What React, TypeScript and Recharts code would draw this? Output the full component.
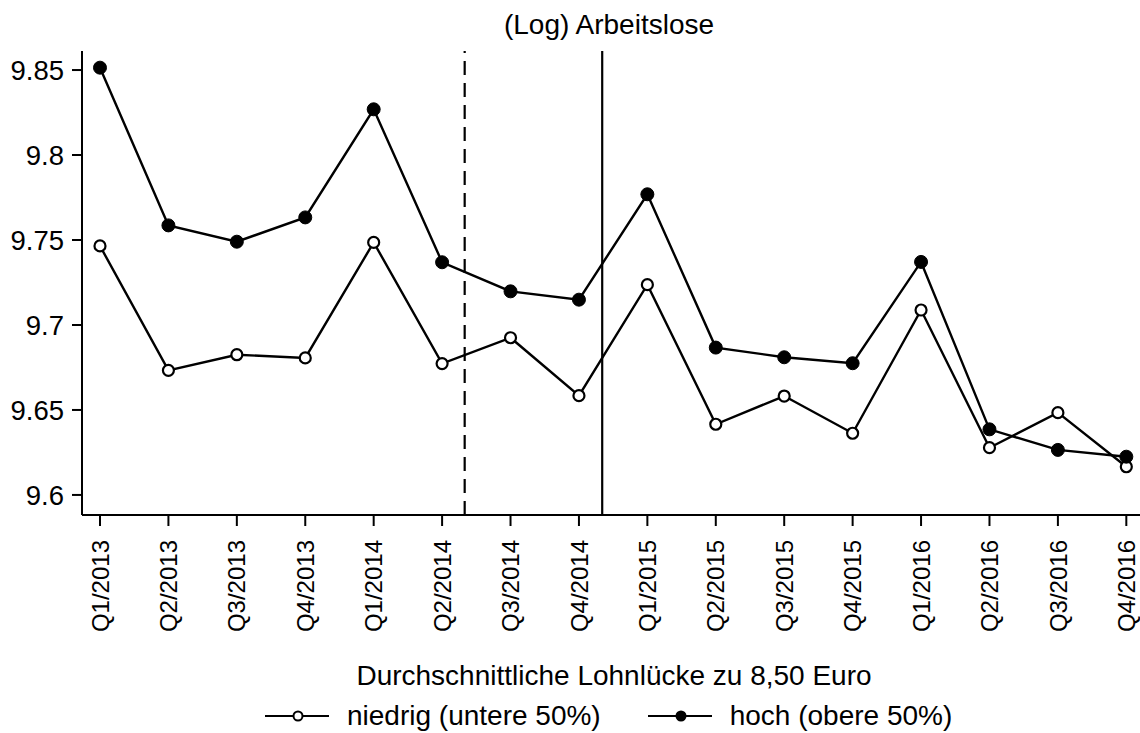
import { LineChart, Line, XAxis, YAxis, ReferenceLine } from "recharts";

const quarters = [
  "Q1/2013", "Q2/2013", "Q3/2013", "Q4/2013",
  "Q1/2014", "Q2/2014", "Q3/2014", "Q4/2014",
  "Q1/2015", "Q2/2015", "Q3/2015", "Q4/2015",
  "Q1/2016", "Q2/2016", "Q3/2016", "Q4/2016",
];

// niedrig (untere 50%) – hollow markers
const niedrig = [9.7465, 9.6733, 9.6825, 9.6806, 9.7486, 9.6773, 9.6925, 9.6584, 9.7237, 9.6416, 9.6582, 9.6363, 9.7088, 9.6278, 9.6484, 9.6166];
// hoch (obere 50%) – filled markers
const hoch = [9.8514, 9.7586, 9.749, 9.7633, 9.8269, 9.7369, 9.7198, 9.7149, 9.7769, 9.6867, 9.681, 9.6775, 9.7371, 9.6386, 9.6265, 9.6225];

const yTicks = [9.6, 9.65, 9.7, 9.75, 9.8, 9.85];
const xTicks = quarters.map((_, i) => i);

// policy markers between quarters
const dashedAt = 5.33;
const solidAt = 7.34;

const data = quarters.map((q, i) => ({ i, quarter: q, niedrig: niedrig[i], hoch: hoch[i] }));

const FONT = "'Liberation Sans', Arial, sans-serif";

function QuarterTick(props: any) {
  const { x, y, payload } = props;
  return (
    <text
      x={0}
      y={0}
      transform={`translate(${x},${y + 12}) rotate(-90)`}
      textAnchor="end"
      dy="0.36em"
      fontSize={24}
      fontFamily={FONT}
      fill="#000"
    >
      {quarters[payload.value]}
    </text>
  );
}

function LegendItem({ filled, label }: { filled: boolean; label: string }) {
  return (
    <div style={{ display: "flex", alignItems: "center", gap: 18 }}>
      <svg width={64} height={14}>
        <line x1={0} y1={7} x2={64} y2={7} stroke="#000" strokeWidth={2.2} />
        <circle cx={33} cy={7} r={4.5} fill={filled ? "#000" : "#fff"} stroke="#000" strokeWidth={2} />
      </svg>
      <span>{label}</span>
    </div>
  );
}

export default function App() {
  return (
    <div style={{ position: "absolute", left: 0, top: 0, width: 1140, height: 733, background: "#fff", fontFamily: FONT, color: "#000" }}>
      <div style={{ position: "absolute", top: 9, left: 0, width: 1218, textAlign: "center", fontSize: 28 }}>
        (Log) Arbeitslose
      </div>
      <LineChart width={1140} height={733} data={data} margin={{ top: 51, right: 0, left: 0, bottom: 98 }}>
        <XAxis
          type="number"
          dataKey="i"
          domain={[-0.263, 15.2]}
          ticks={xTicks}
          allowDataOverflow
          interval={0}
          height={120}
          tickSize={11}
          stroke="#000"
          strokeWidth={2}
          tick={<QuarterTick />}
        />
        <YAxis
          domain={[9.5882, 9.8612]}
          ticks={yTicks}
          allowDataOverflow
          width={82}
          tickSize={10}
          tickMargin={8}
          stroke="#000"
          strokeWidth={2}
          tickFormatter={(v: number) => String(v)}
          tick={{ fill: "#000", fontSize: 27.5, fontFamily: FONT }}
        />
        <ReferenceLine x={dashedAt} stroke="#000" strokeWidth={2.2} strokeDasharray="14 8" />
        <ReferenceLine x={solidAt} stroke="#000" strokeWidth={2.2} />
        <Line
          dataKey="niedrig"
          stroke="#000"
          strokeWidth={2.4}
          dot={{ r: 5.5, fill: "#fff", stroke: "#000", strokeWidth: 2.2 }}
          isAnimationActive={false}
        />
        <Line
          dataKey="hoch"
          stroke="#000"
          strokeWidth={2.4}
          dot={{ r: 6.5, fill: "#000", stroke: "#000", strokeWidth: 1 }}
          isAnimationActive={false}
        />
      </LineChart>
      <div style={{ position: "absolute", top: 660, left: 0, width: 1228, textAlign: "center", fontSize: 28 }}>
        Durchschnittliche Lohnlücke zu 8,50 Euro
      </div>
      <div style={{ position: "absolute", top: 700, left: 265, display: "flex", gap: 47, fontSize: 28 }}>
        <LegendItem filled={false} label="niedrig (untere 50%)" />
        <LegendItem filled label="hoch (obere 50%)" />
      </div>
    </div>
  );
}
